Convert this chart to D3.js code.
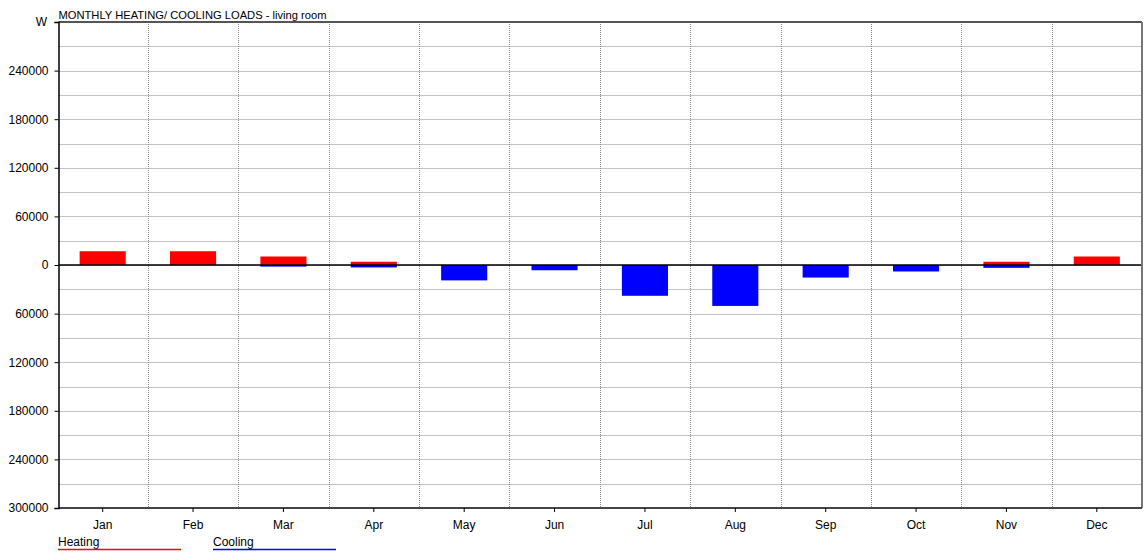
<!DOCTYPE html>
<html>
<head>
<meta charset="utf-8">
<script src="https://cdn.jsdelivr.net/npm/d3@7/dist/d3.min.js"></script>
<style>
  html, body { margin: 0; padding: 0; background: #fff; }
  svg { display: block; font-family: "Liberation Sans", Arial, sans-serif; }
</style>
</head>
<body>
<svg id="chart" width="1146" height="553"></svg>
<script>
// Monthly loads for the living room, in W
const months = ["Jan", "Feb", "Mar", "Apr", "May", "Jun", "Jul", "Aug", "Sep", "Oct", "Nov", "Dec"];
const heating = [17000, 17000, 10500, 4000, 0, 0, 0, 0, 0, 0, 4000, 10500];
const cooling = [0, 0, 2000, 3000, 19000, 6500, 38000, 50500, 15500, 8000, 3500, 0];
const yTicks = [300000, 240000, 180000, 120000, 60000, 0, -60000, -120000, -180000, -240000, -300000];

const svg = d3.select("#chart");
const plotL = 58.5, plotR = 1142, plotT = 22, plotB = 508;

const x = d3.scaleBand().domain(months).range([57.5, plotR]).paddingInner(0).paddingOuter(0);
const y = d3.scaleLinear().domain([-300000, 300000]).range([plotB, plotT]);

// dotted grid: horizontal every 30000, vertical between months
const hGrid = d3.range(-270000, 300000, 30000);
svg.append("g").selectAll("line").data(hGrid).join("line")
  .attr("x1", plotL).attr("x2", plotR)
  .attr("y1", d => Math.round(y(d)) + 0.5).attr("y2", d => Math.round(y(d)) + 0.5)
  .attr("stroke", "#888").attr("stroke-width", 1).attr("stroke-dasharray", "1,1");
svg.append("g").selectAll("line").data(months.slice(1)).join("line")
  .attr("x1", d => Math.round(x(d)) + 0.5).attr("x2", d => Math.round(x(d)) + 0.5)
  .attr("y1", plotT).attr("y2", plotB)
  .attr("stroke", "#888").attr("stroke-width", 1).attr("stroke-dasharray", "1,1");

const barW = x.bandwidth() * 0.51;
const cx = d => x(d) + x.bandwidth() / 2;

// heating bars above zero
svg.append("g").selectAll("rect").data(months.map((m, i) => ({ m, v: heating[i] })).filter(d => d.v > 0)).join("rect")
  .attr("x", d => cx(d.m) - barW / 2).attr("width", barW)
  .attr("y", d => y(d.v)).attr("height", d => y(0) - y(d.v))
  .attr("fill", "#ff0000");

// cooling bars below zero
svg.append("g").selectAll("rect").data(months.map((m, i) => ({ m, v: cooling[i] })).filter(d => d.v > 0)).join("rect")
  .attr("x", d => cx(d.m) - barW / 2).attr("width", barW)
  .attr("y", y(0)).attr("height", d => y(-d.v) - y(0))
  .attr("fill", "#0000ff");

// zero line
svg.append("line").attr("x1", plotL).attr("x2", plotR)
  .attr("y1", y(0)).attr("y2", y(0)).attr("stroke", "#000").attr("stroke-width", 1.5);

// frame
svg.append("line").attr("x1", plotL).attr("x2", plotR).attr("y1", plotT).attr("y2", plotT)
  .attr("stroke", "#555").attr("stroke-width", 2);
svg.append("line").attr("x1", plotR).attr("x2", plotR).attr("y1", plotT).attr("y2", plotB)
  .attr("stroke", "#777").attr("stroke-width", 2);
svg.append("line").attr("x1", plotL).attr("x2", plotR).attr("y1", plotB).attr("y2", plotB)
  .attr("stroke", "#444").attr("stroke-width", 2);

// y axis
const yAxis = d3.axisLeft(y).tickValues(yTicks).tickSize(4).tickPadding(6)
  .tickFormat(d => d === 300000 ? "" : d3.format("d")(Math.abs(d)));
const gy = svg.append("g").attr("transform", `translate(${plotL},0)`).call(yAxis);
gy.select(".domain").attr("stroke", "#000").attr("stroke-width", 1.5);
gy.selectAll(".tick line").attr("stroke", "#000");
gy.selectAll("text").attr("font-size", 12).attr("fill", "#000").attr("font-family", "Liberation Sans, Arial, sans-serif");

// unit label at the top of the y axis
svg.append("text").attr("x", 47).attr("y", plotT + 4).attr("text-anchor", "end")
  .attr("font-size", 12).attr("fill", "#000").text("W");

// x axis
const xAxis = d3.axisBottom(x).tickSize(4).tickPadding(8);
const gx = svg.append("g").attr("transform", `translate(0,${plotB})`).call(xAxis);
gx.select(".domain").remove();
gx.selectAll(".tick line").attr("stroke", "#000");
gx.selectAll("text").attr("font-size", 12).attr("fill", "#000").attr("font-family", "Liberation Sans, Arial, sans-serif");

// title
svg.append("text").attr("x", plotL).attr("y", 19)
  .attr("font-size", 11.5).attr("fill", "#000")
  .attr("textLength", 268).attr("lengthAdjust", "spacingAndGlyphs")
  .text("MONTHLY HEATING/ COOLING LOADS - living room");

// legend
const legend = [{ name: "Heating", color: "#ff0000", x: 58 }, { name: "Cooling", color: "#0000ff", x: 213 }];
const lg = svg.append("g").selectAll("g").data(legend).join("g");
lg.append("text").attr("x", d => d.x).attr("y", 546).attr("font-size", 12).attr("fill", "#000").text(d => d.name);
lg.append("line").attr("x1", d => d.x).attr("x2", d => d.x + 123)
  .attr("y1", 549.5).attr("y2", 549.5).attr("stroke", d => d.color).attr("stroke-width", 1.5);
</script>
</body>
</html>
